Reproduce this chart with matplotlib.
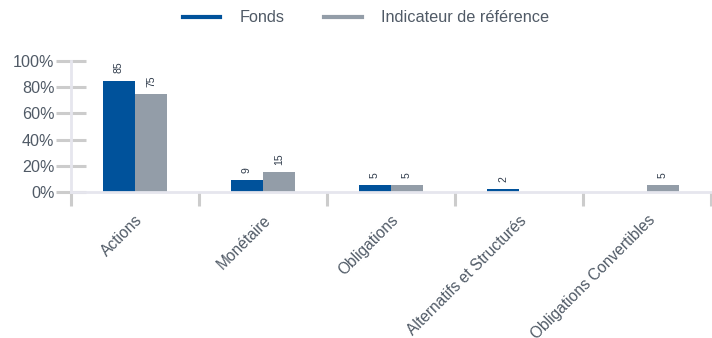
import numpy as np
import matplotlib.pyplot as plt

plt.rcParams['font.family'] = ['Liberation Sans', 'DejaVu Sans']

categories = ['Actions', 'Monétaire', 'Obligations', 'Alternatifs et Structurés',
              'Obligations Convertibles']
fonds = [85, 9, 5, 2, 0]
reference = [75, 15, 5, 0, 5]
yticks = [0, 20, 40, 60, 80, 100]

c_fonds = '#00529b'
c_ref = '#939da8'
c_text = '#505a66'

fig = plt.figure(figsize=(7.12, 3.38), dpi=100)
ax = fig.add_axes([71 / 712, 146 / 338, 640 / 712, 131 / 338])

x = np.arange(len(categories))
w = 0.25
b1 = ax.bar(x - w / 2, fonds, w, color=c_fonds)
b2 = ax.bar(x + w / 2, reference, w, color=c_ref)

for bars, vals in ((b1, fonds), (b2, reference)):
    for rect, v in zip(bars, vals):
        if v == 0:
            continue
        ax.text(rect.get_x() + rect.get_width() / 2, v + 5.5, str(v),
                rotation=90, ha='center', va='bottom', fontsize=7.5,
                color='#2e3a4a', clip_on=False)

ax.set_xlim(-0.5, len(categories) - 0.5)
ax.set_ylim(0, 100)

ax.set_yticks(yticks)
ax.set_yticklabels([f'{t}%' for t in yticks], fontsize=11.6, color=c_text)
ax.tick_params(axis='y', direction='inout', length=22, width=2.2,
               color='#cccccc', pad=1)

# category boundaries as major ticks, names on minor ticks
ax.set_xticks(np.arange(-0.5, len(categories), 1.0))
ax.set_xticklabels([])
ax.tick_params(axis='x', which='major', direction='out', length=10,
               width=2.2, color='#cccccc')
ax.set_xticks(x, minor=True)
ax.set_xticklabels(categories, minor=True, rotation=45, ha='right',
                   rotation_mode='anchor', fontsize=11.2, color=c_text)
ax.tick_params(axis='x', which='minor', length=0, pad=15)

for s in ['top', 'right']:
    ax.spines[s].set_visible(False)
for s in ['left', 'bottom']:
    ax.spines[s].set_color('#e6e6ee')
    ax.spines[s].set_linewidth(2)

handles = [plt.Line2D([], [], color=c_fonds, lw=3),
           plt.Line2D([], [], color=c_ref, lw=3)]
leg = fig.legend(handles, ['Fonds', 'Indicateur de référence'], loc='center',
                 bbox_to_anchor=(366 / 712, 1 - 18 / 338), ncol=2, frameon=False,
                 fontsize=11.7, handlelength=2.3, handletextpad=1.2,
                 columnspacing=2.45)
for t in leg.get_texts():
    t.set_color(c_text)

fig.savefig('out.png', dpi=100)
